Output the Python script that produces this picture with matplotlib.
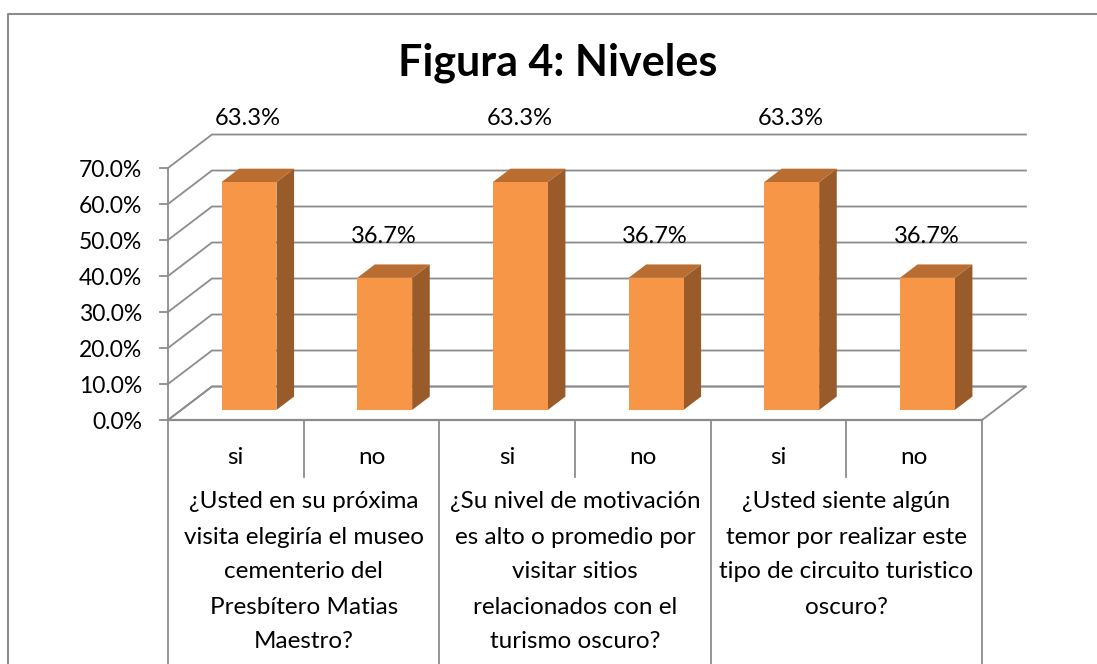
import matplotlib.pyplot as plt
from matplotlib.patches import Polygon, Rectangle
from matplotlib.lines import Line2D
import numpy as np

plt.rcParams['font.family'] = ['Lato', 'DejaVu Sans']

title = "Figura 4: Niveles"
answers = ["si", "no", "si", "no", "si", "no"]
values = [63.3, 36.7, 63.3, 36.7, 63.3, 36.7]
questions = [
    ["¿Usted en su próxima", "visita elegiría el museo", "cementerio del",
     "Presbítero Matias", "Maestro?"],
    ["¿Su nivel de motivación", "es alto o promedio por", "visitar sitios",
     "relacionados con el", "turismo oscuro?"],
    ["¿Usted siente algún", "temor por realizar este",
     "tipo de circuito turistico", "oscuro?"],
]
yticks = np.arange(0, 80, 10)

# 3d look: depth offset of the box (data units)
DX, DY = 0.324, 9.3
W = 0.405
grid_c = '#8c8c8c'
front_c, side_c, top_c = '#F79646', '#9A5B2A', '#B96D31'

fig = plt.figure(figsize=(10.97, 6.64), dpi=100)
# axes placed in pixels: x 168..1028, y 420..133 (from top)
ax = fig.add_axes([168 / 1097, (664 - 420) / 664, 860 / 1097, 287 / 664])
ax.set_xlim(0, 860 / 135.67)
ax.set_ylim(0, 287 / 3.6)
ax.axis('off')
ncat = len(values)

# floor
floor = Polygon([(0, 0), (ncat, 0), (ncat + DX, DY), (DX, DY)], closed=True,
                facecolor='white', edgecolor=grid_c, lw=1.3, clip_on=False)
ax.add_patch(floor)

# back wall gridlines + side diagonals
for v in yticks:
    ax.plot([0, DX, ncat + DX], [v, v + DY, v + DY], color=grid_c, lw=1.3,
            clip_on=False, solid_joinstyle='miter')
    ax.plot([-0.06, 0], [v, v], color=grid_c, lw=1.3, clip_on=False)
    ax.text(-0.19, v - 0.8, f"{v:.1f}%", ha='right', va='center', fontsize=16.5,
            clip_on=False)
ax.plot([0, 0], [0, yticks[-1]], color=grid_c, lw=1.3, clip_on=False)
ax.plot([0, ncat], [0, 0], color=grid_c, lw=1.6, clip_on=False)

# bars
for i, v in enumerate(values):
    x0 = i + 0.5 - W / 2 + 0.3 * DX
    y0 = 0.3 * DY
    ddx, ddy = 0.4 * DX, 0.4 * DY
    ax.add_patch(Polygon([(x0 + W, y0), (x0 + W + ddx, y0 + ddy),
                          (x0 + W + ddx, y0 + ddy + v), (x0 + W, y0 + v)],
                         closed=True, facecolor=side_c, edgecolor='none', zorder=3))
    ax.add_patch(Polygon([(x0, y0 + v), (x0 + W, y0 + v),
                          (x0 + W + ddx, y0 + v + ddy), (x0 + ddx, y0 + v + ddy)],
                         closed=True, facecolor=top_c, edgecolor='none', zorder=3))
    ax.add_patch(Rectangle((x0, y0), W, v, facecolor=front_c, edgecolor='none',
                           zorder=4))
    ax.text(i + 0.59, v * 1.233 + 5.6, f"{v:.1f}%", ha='center', va='center',
            fontsize=17, zorder=5)

# category table below the floor
for i, a in enumerate(answers):
    ax.text(i + 0.5, -10.3, a, ha='center', va='center', fontsize=17.5,
            clip_on=False)
    if i % 2 == 1:
        ax.plot([i, i], [0, -15.8], color=grid_c, lw=1.3, clip_on=False)
for k in range(0, ncat + 1, 2):
    ax.plot([k, k], [0, -75], color=grid_c, lw=1.3, clip_on=False)
for g, lines in enumerate(questions):
    for j, line in enumerate(lines):
        ax.text(2 * g + 1, -(502 + 35 * j - 420) / 3.6, line, ha='center',
                va='center', fontsize=17.5, clip_on=False)

# title and chart border (only top and left edges are visible)
fig.text(558 / 1097, 1 - 63 / 664, title, ha='center', va='center',
         fontsize=31, fontweight='bold')
bx, by = 8 / 1097, 1 - 14 / 664
fig.add_artist(Line2D([bx, bx, 1.0], [0.0, by, by], transform=fig.transFigure,
                      color='#8c8c8c', lw=1.5))

fig.savefig('out.png', dpi=100)
